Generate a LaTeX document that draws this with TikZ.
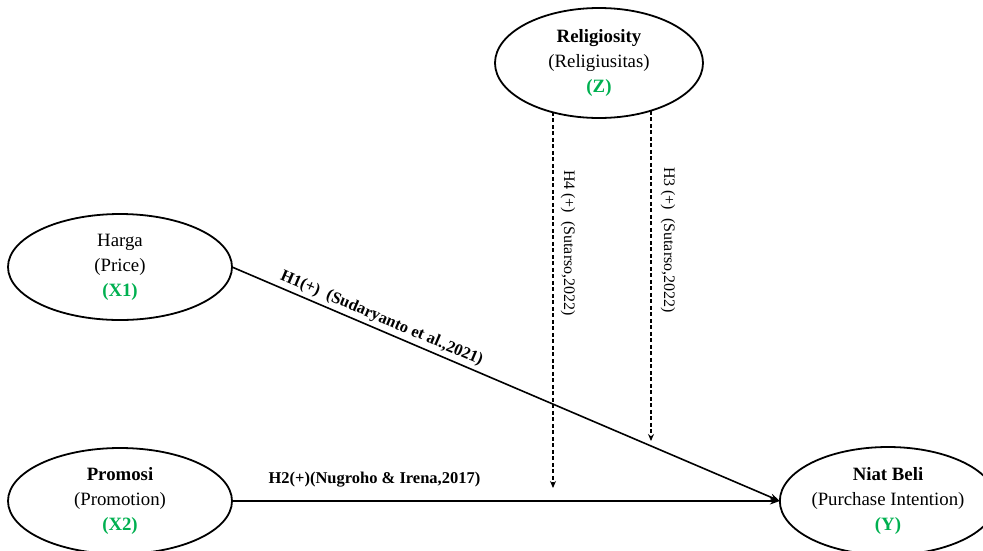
\documentclass[tikz,border=0pt]{standalone}
\usepackage{fontspec}
\setmainfont{Liberation Serif}
\usetikzlibrary{shapes.geometric,arrows.meta}
\definecolor{vargreen}{RGB}{0,176,80}
\begin{document}
\begin{tikzpicture}[x=1pt,y=-1pt,
 var/.style={ellipse,draw,line width=1.8pt,inner sep=0pt,outer sep=0pt,align=center,font=\fontsize{18.8}{25}\selectfont},
 conn/.style={line width=1.6pt,-{Stealth[length=10pt,width=7pt]}},
 dconn/.style={line width=1.4pt,dash pattern=on 4pt off 2.5pt,-{Stealth[length=7pt,width=6pt]}},
 hlab/.style={font=\bfseries\fontsize{16.5}{18}\selectfont,inner sep=0pt},
 vlab/.style={font=\fontsize{16}{18}\selectfont,inner sep=0pt,rotate=-90}]
\useasboundingbox (0,0) rectangle (983,550);
\clip (0,0) rectangle (983,550);

\node[var, minimum width=208, minimum height=110] (relig) at (599,63)
  {\textbf{Religiosity}\\(Religiusitas)\\\textcolor{vargreen}{\textbf{(Z)}}};
\node[var, minimum width=224, minimum height=106] (harga) at (120,267)
  {Harga\\(Price)\\\textcolor{vargreen}{\textbf{(X1)}}};
\node[var, minimum width=224, minimum height=106] (promosi) at (120,501)
  {\textbf{Promosi}\\(Promotion)\\\textcolor{vargreen}{\textbf{(X2)}}};
\node[var, minimum width=214, minimum height=108] (niat) at (888,501)
  {\textbf{Niat Beli}\\(Purchase Intention)\\\textcolor{vargreen}{\textbf{(Y)}}};

\draw[conn] (harga.east) -- (niat.west)
  node[hlab, pos=0.265, sloped, above=3pt] (h1lab) {H1(+)\ \ (Sudaryanto et al.,2021)};
\draw[conn] (promosi.east) -- (niat.west)
  node[hlab, pos=0.26, above=13pt] (h2lab) {H2(+)(Nugroho \& Irena,2017)};

\coordinate (h4end) at (553,488);
\coordinate (h3end) at (651,441);
\draw[dconn] (relig.226.8 -| h4end) -- (h4end);
\draw[dconn] (relig.317.5 -| h3end) -- (h3end);

\node[vlab] (h4lab) at (568,243) {H4 (+)\ \ (Sutarso,2022)};
\node[vlab] (h3lab) at (668,240) {H3 (+)\ \ (Sutarso,2022)};
\end{tikzpicture}
\end{document}
